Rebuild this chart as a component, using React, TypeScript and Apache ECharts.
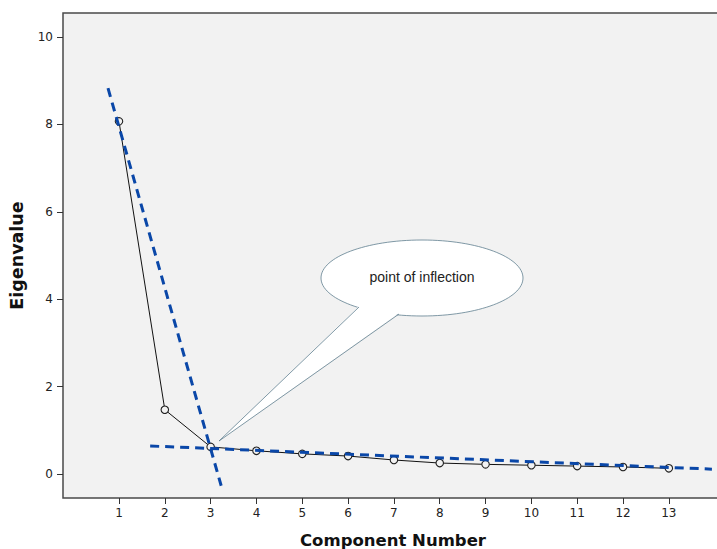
import React, { useEffect, useRef } from "react";
import * as echarts from "echarts";

const components = [1, 2, 3, 4, 5, 6, 7, 8, 9, 10, 11, 12, 13];
const eigenvalues = [8.07, 1.47, 0.62, 0.53, 0.46, 0.41, 0.32, 0.25, 0.22, 0.2, 0.18, 0.16, 0.13];
const steepLine = [[0.76, 8.83], [3.23, -0.27]];
const flatLine = [[1.68, 0.64], [13.94, 0.11]];
const yTicks = [0, 2, 4, 6, 8, 10];
const xTicks = components;
const calloutText = "point of inflection";

export default function App() {
  const ref = useRef<HTMLDivElement>(null);
  useEffect(() => {
    const chart = echarts.init(ref.current!, null, { renderer: "svg" });
    const font = "DejaVu Sans";
    const stroke = "#5f7f8f";
    chart.setOption({
      animation: false,
      backgroundColor: "#ffffff",
      grid: {
        left: 63,
        top: 13,
        width: 670,
        height: 485,
        show: true,
        backgroundColor: "#f2f2f2",
        borderColor: "#4a4a4a",
        borderWidth: 1.5,
        outerBoundsMode: "none",
        containLabel: false,
      },
      xAxis: {
        type: "value",
        min: -0.222,
        max: 14.40,
        name: "Component Number",
        nameLocation: "middle",
        nameGap: 34,
        nameTextStyle: { fontFamily: font, fontWeight: "bold", fontSize: 16.5, color: "#111", padding: [0, 10, 0, 0] },
        axisLine: { show: false, onZero: false },
        splitLine: { show: false },
        axisTick: { show: true, length: 6, customValues: xTicks, lineStyle: { color: "#333" } },
        axisLabel: { customValues: xTicks, fontFamily: font, fontSize: 12, color: "#222", margin: 9 },
      },
      yAxis: {
        type: "value",
        min: -0.55,
        max: 10.55,
        name: "Eigenvalue",
        nameLocation: "middle",
        nameGap: 37,
        nameTextStyle: { fontFamily: font, fontWeight: "bold", fontSize: 17.5, color: "#111" },
        axisLine: { show: false, onZero: false },
        splitLine: { show: false },
        axisTick: { show: true, length: 6, customValues: yTicks, lineStyle: { color: "#333" } },
        axisLabel: { customValues: yTicks, fontFamily: font, fontSize: 12, color: "#222", margin: 10 },
      },
      graphic: [
        {
          type: "group",
          z: 100,
          children: [
            {
              type: "ellipse",
              shape: { cx: 422, cy: 278, rx: 101, ry: 38 },
              style: { fill: "#ffffff", stroke: stroke, lineWidth: 0.8 },
            },
            {
              type: "polygon",
              shape: { points: [[359, 306], [219, 441], [399, 313], [399, 300], [359, 295]] },
              style: { fill: "#ffffff", stroke: "none" },
            },
            {
              type: "polyline",
              shape: { points: [[359, 307], [219, 441], [399, 314]] },
              style: { fill: "none", stroke: stroke, lineWidth: 0.8 },
            },
            {
              type: "text",
              x: 422,
              y: 277,
              style: {
                text: calloutText,
                fontFamily: "Liberation Sans",
                fontSize: 14,
                fill: "#222",
                align: "center",
                verticalAlign: "middle",
              },
            },
          ],
        },
      ],
      series: [
        {
          type: "line",
          data: components.map((c, i) => [c, eigenvalues[i]]),
          symbol: "circle",
          symbolSize: 7.5,
          lineStyle: { color: "#111", width: 1 },
          itemStyle: { color: "#f2f2f2", borderColor: "#222", borderWidth: 1.1 },
          z: 3,
        },
        {
          type: "line",
          data: steepLine,
          symbol: "none",
          lineStyle: { color: "#0a47a8", width: 3, type: [9, 6] },
          z: 4,
        },
        {
          type: "line",
          data: flatLine,
          symbol: "none",
          lineStyle: { color: "#0a47a8", width: 3, type: [9, 6] },
          z: 4,
        },
      ],
    });
    return () => chart.dispose();
  }, []);
  return (
    <div
      ref={ref}
      style={{ position: "fixed", left: 0, top: 0, width: 717, height: 549 }}
    />
  );
}
